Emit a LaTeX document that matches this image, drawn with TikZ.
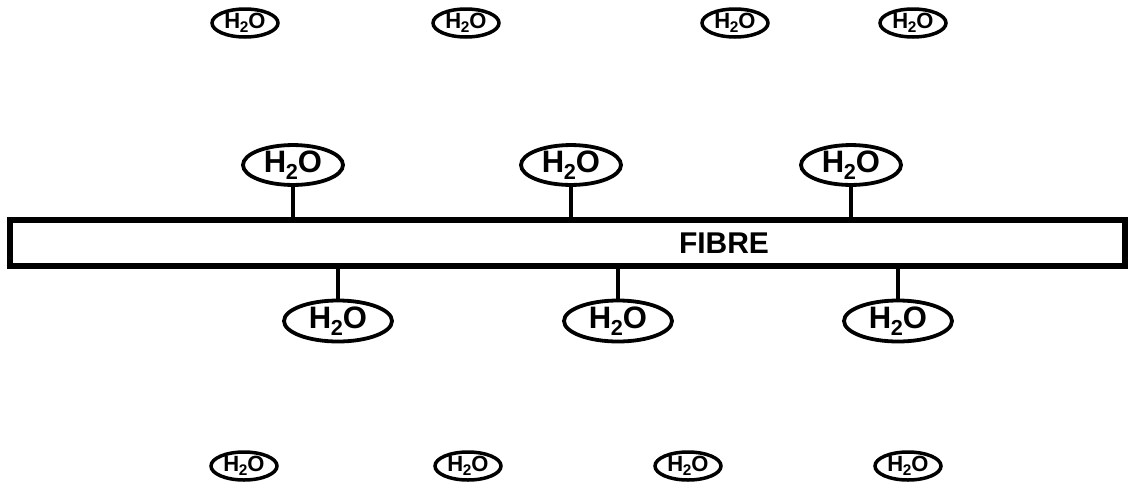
\documentclass[tikz,border=0pt]{standalone}
\usepackage{fontspec}
\setmainfont{Liberation Sans}
\usetikzlibrary{shapes.geometric}
\begin{document}
\begin{tikzpicture}[x=1pt,y=-1pt,
  big/.style={ellipse,draw,line width=3.8pt,minimum width=100pt,minimum height=39pt,inner sep=0pt,font=\fontsize{31}{31}\selectfont\bfseries},
  bigb/.style={big,minimum width=108pt,minimum height=41pt},
  small/.style={ellipse,draw,line width=3.5pt,minimum width=66pt,minimum height=28pt,inner sep=0pt,font=\fontsize{22}{22}\selectfont\bfseries},
  stem/.style={line width=3.2pt},
  fibre/.style={draw,line width=6.5pt,minimum width=1115pt,minimum height=46pt,inner sep=0pt},
  fibretext/.style={font=\fontsize{30}{30}\selectfont\bfseries,inner sep=0pt}]
\useasboundingbox (0,0) rectangle (1130,485);
\newcommand{\water}{H\kern-0.5pt\textsubscript{2}\kern-0.5pt O}
\node[fibre] (fib) at (567.5,243) {};
\node[fibretext] (lbl) at (724,243) {FIBRE};
% small free molecules
\node[small] (s1) at (245,23) {\water};
\node[small] (s2) at (466,23) {\water};
\node[small] (s3) at (735,23) {\water};
\node[small] (s4) at (913,23) {\water};
\node[small] (s5) at (244,466) {\water};
\node[small] (s6) at (468,466) {\water};
\node[small] (s7) at (688,466) {\water};
\node[small] (s8) at (908,466) {\water};
% bound molecules above
\node[big] (u1) at (293,165) {\water};
\node[big] (u2) at (571,165) {\water};
\node[big] (u3) at (851,165) {\water};
% bound molecules below
\node[bigb] (d1) at (338,321) {\water};
\node[bigb] (d2) at (618,321) {\water};
\node[bigb] (d3) at (898,321) {\water};
\foreach \n in {u1,u2,u3}{\draw[stem] (\n.south) -- (\n.south |- fib.north);}
\foreach \n in {d1,d2,d3}{\draw[stem] (\n.north) -- (\n.north |- fib.south);}
\end{tikzpicture}
\end{document}
